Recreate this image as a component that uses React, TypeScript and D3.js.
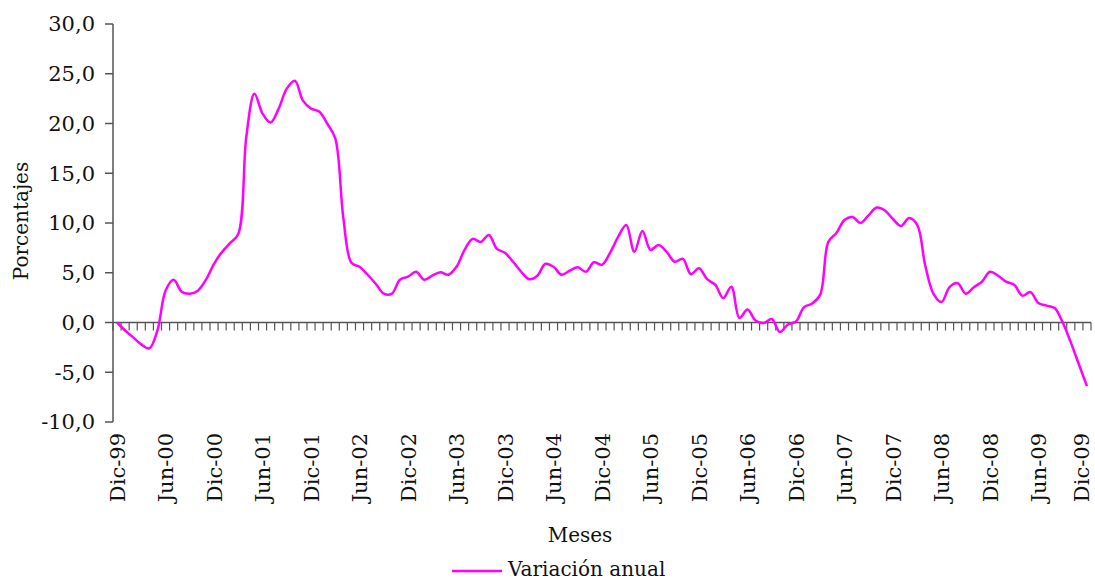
import React from "react"
import * as d3 from "d3"

// Variación anual, mensual, Dic-99 .. Dic-09 (121 meses)
const variacion = [
  0.0, -0.8, -1.5, -2.2, -2.6, -0.8, 3.2, 4.3, 3.1, 2.9, 3.2, 4.3,
  5.9, 7.1, 8.0, 8.9, 18.7, 23.0, 21.0, 20.1, 21.5, 23.5, 24.3, 22.3,
  21.5, 21.2, 20.0, 18.5, 10.5, 6.0, 5.6, 4.8, 3.9, 2.9, 2.9, 4.3,
  4.6, 5.1, 4.3, 4.7, 5.05, 4.8, 5.6, 7.3, 8.4, 8.1, 8.8, 7.4,
  7.0, 6.1, 5.1, 4.35, 4.7, 5.9, 5.6, 4.8, 5.2, 5.55, 5.1, 6.05,
  5.8, 7.0, 8.6, 9.8, 7.1, 9.2, 7.3, 7.8, 7.1, 6.1, 6.4, 4.85,
  5.45, 4.35, 3.8, 2.45, 3.6, 0.45, 1.3, 0.2, -0.05, 0.35, -0.95, -0.2,
  0.1, 1.55, 1.9, 2.8, 8.1, 9.0, 10.3, 10.6, 10.0, 10.8, 11.55, 11.25,
  10.4, 9.7, 10.5, 9.8, 5.7, 2.9, 2.05, 3.55, 3.95, 2.9, 3.55, 4.1,
  5.1, 4.7, 4.1, 3.8, 2.7, 3.05, 1.95, 1.7, 1.45, 0.0, -2.0, -4.2,
  -6.4,
]

const etiquetasX = [
  "Dic-99", "Jun-00", "Dic-00", "Jun-01", "Dic-01", "Jun-02", "Dic-02",
  "Jun-03", "Dic-03", "Jun-04", "Dic-04", "Jun-05", "Dic-05", "Jun-06",
  "Dic-06", "Jun-07", "Dic-07", "Jun-08", "Dic-08", "Jun-09", "Dic-09",
]
const pasoEtiqueta = 6
const ticksY = [-10, -5, 0, 5, 10, 15, 20, 25, 30]

const font = "'DejaVu Serif', serif"
const axisColor = "#555"

export default function App() {
  const W = 1095
  const H = 581
  const left = 113
  const right = 1091
  const top = 24
  const bottom = 422

  const idx = d3.range(variacion.length)
  const x = d3.scaleBand<number>().domain(idx).range([left, right]).padding(0)
  const bw = x.bandwidth()
  const cx = (i: number) => (x(i) as number) + bw / 2
  const y = d3.scaleLinear().domain([-10, 30]).range([bottom, top])

  const fmt = d3
    .formatLocale({ decimal: ",", thousands: ".", grouping: [3], currency: ["", ""], minus: "-" })
    .format(".1f")

  const line = d3
    .line<number>()
    .x((_, i) => cx(i))
    .y((d) => y(d))
    .curve(d3.curveCatmullRom.alpha(0.5))

  const boundaries = idx.map((i) => x(i) as number).concat([right])
  const y0 = y(0)

  return (
    <svg width={W} height={H} style={{ position: "absolute", left: 0, top: 0, background: "#fff" }}>
      {/* eje Y */}
      <line x1={left} x2={left} y1={top} y2={bottom} stroke={axisColor} strokeWidth={1.5} />
      {ticksY.map((t) => (
        <g key={t}>
          <line x1={left - 8} x2={left} y1={y(t)} y2={y(t)} stroke={axisColor} strokeWidth={1.5} />
          <text x={95} y={y(t)} dy="0.35em" textAnchor="end" fontFamily={font} fontSize={21} fill="#111">
            {fmt(t)}
          </text>
        </g>
      ))}
      {/* eje X en cero */}
      <line x1={left} x2={right} y1={y0} y2={y0} stroke={axisColor} strokeWidth={1.5} />
      {boundaries.map((b, i) => (
        <line key={i} x1={b} x2={b} y1={y0} y2={y0 + 8} stroke={axisColor} strokeWidth={1.2} />
      ))}
      {etiquetasX.map((lab, k) => {
        const px = Math.min(cx(k * pasoEtiqueta), 1081)
        return (
          <text
            key={lab}
            transform={`translate(${px},${433}) rotate(-90)`}
            dy="0.36em"
            textAnchor="end"
            fontFamily={font}
            fontSize={21}
            fill="#111"
          >
            {lab}
          </text>
        )
      })}
      {/* serie */}
      <path d={line(variacion) || ""} fill="none" stroke="#ff00ff" strokeWidth={2.5} />
      {/* títulos */}
      <text x={580} y={542} textAnchor="middle" fontFamily={font} fontSize={20} fill="#111">
        Meses
      </text>
      <text transform="translate(28,221) rotate(-90)" textAnchor="middle" fontFamily={font} fontSize={20} fill="#111">
        Porcentajes
      </text>
      {/* leyenda */}
      <line x1={452} x2={502} y1={571} y2={571} stroke="#ff00ff" strokeWidth={2.5} />
      <text x={508} y={576} fontFamily={font} fontSize={20} fill="#111">
        Variación anual
      </text>
    </svg>
  )
}
